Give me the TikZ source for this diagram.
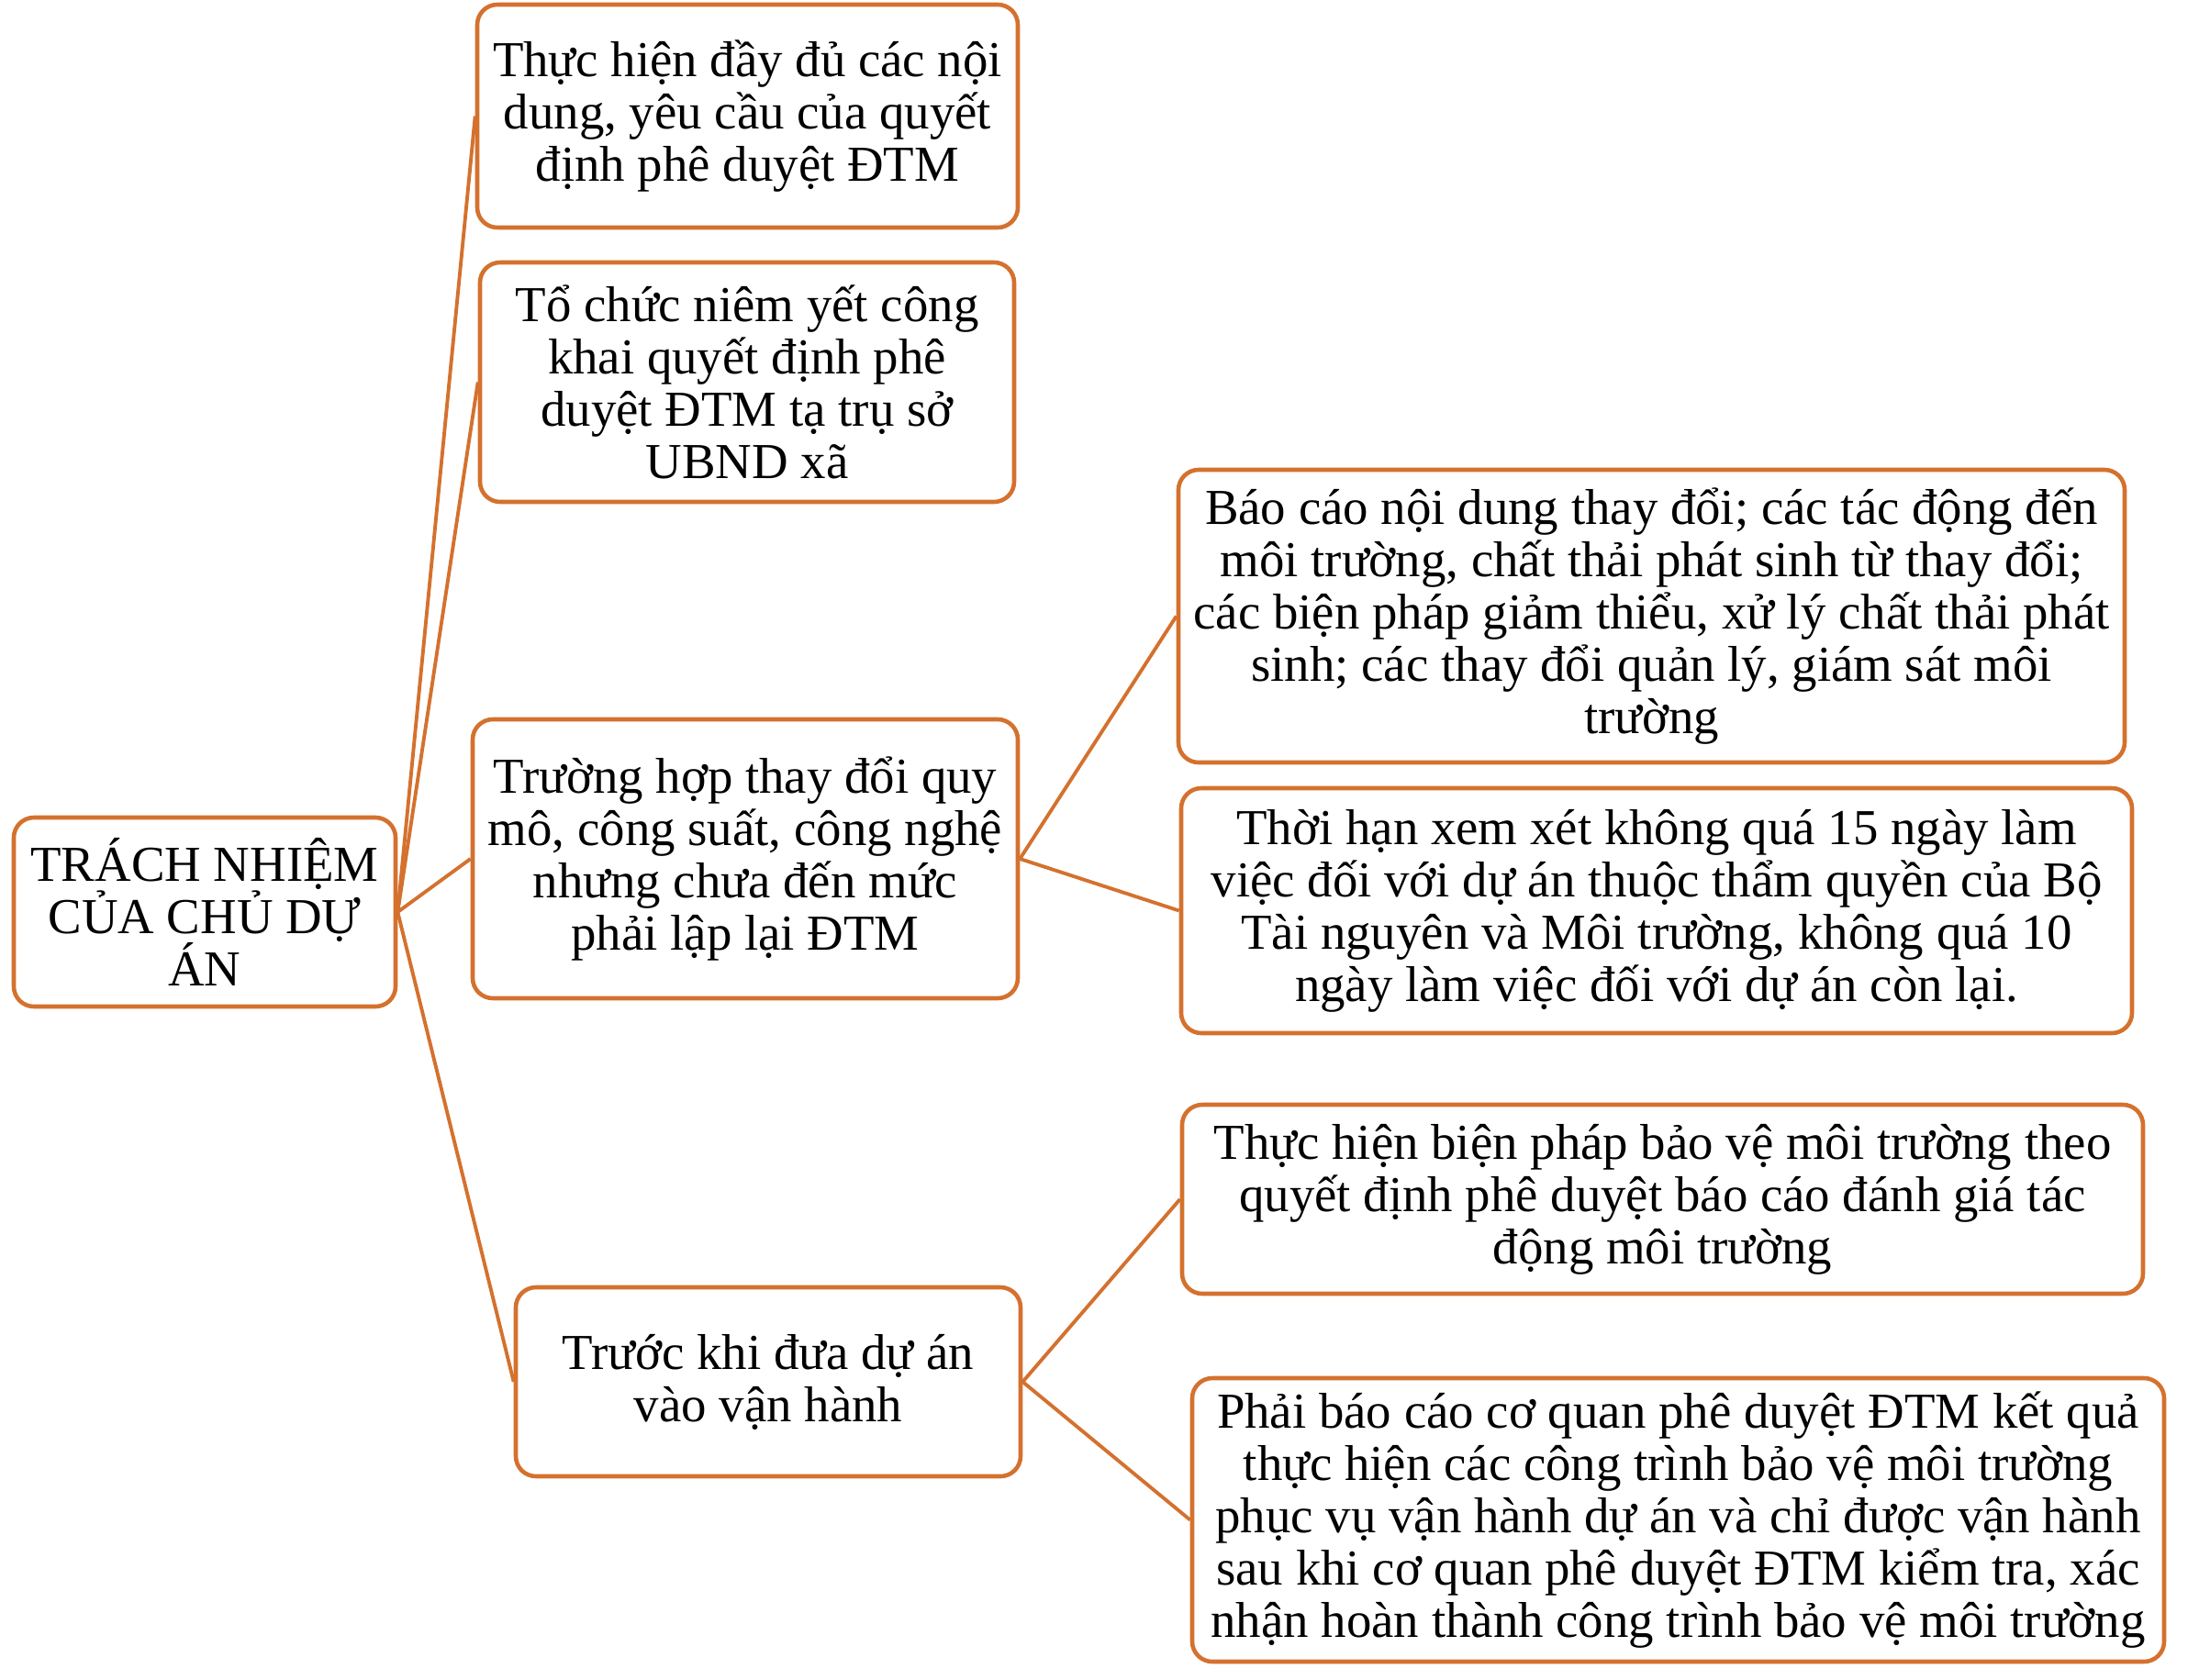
\documentclass[tikz,border=0pt]{standalone}
\usepackage{fontspec}
\setmainfont{Liberation Serif}
\definecolor{dutyorange}{RGB}{212,113,46}
\tikzset{
  tbox/.style = {draw=dutyorange, line width=1.3pt, rounded corners=0.22cm,
                 align=center, inner sep=0pt, fill=white,
                 font=\fontsize{15.6}{16.2}\selectfont},
  link/.style = {dutyorange, line width=1.1pt},
}

\begin{document}
\begin{tikzpicture}
\useasboundingbox (0,0) rectangle (23.96,-18.30);
% goc
\node[tbox, minimum width=4.16cm, minimum height=2.06cm] (duty) at (2.23,-9.94)
  {TRÁCH NHIỆM\\CỦA CHỦ DỰ\\ÁN};
% cot giua
\node[tbox, minimum width=5.89cm, minimum height=2.43cm] (full) at (8.145,-1.265)
  {Thực hiện đầy đủ các nội\\dung, yêu cầu của quyết\\định phê duyệt ĐTM};
\node[tbox, minimum width=5.82cm, minimum height=2.61cm] (post) at (8.14,-4.165)
  {Tổ chức niêm yết công\\khai quyết định phê\\duyệt ĐTM tạ trụ sở\\UBND xã};
\node[tbox, minimum width=5.94cm, minimum height=3.04cm] (change) at (8.12,-9.36)
  {Trường hợp thay đổi quy\\mô, công suất, công nghệ\\nhưng chưa đến mức\\phải lập lại ĐTM};
\node[tbox, minimum width=5.50cm, minimum height=2.06cm] (oper) at (8.37,-15.06)
  {Trước khi đưa dự án\\vào vận hành};
% cot phai
\node[tbox, minimum width=10.31cm, minimum height=3.19cm] (report) at (17.995,-6.715)
  {Báo cáo nội dung thay đổi; các tác động đến\\môi trường, chất thải phát sinh từ thay đổi;\\các biện pháp giảm thiểu, xử lý chất thải phát\\sinh; các thay đổi quản lý, giám sát môi\\trường};
\node[tbox, minimum width=10.36cm, minimum height=2.67cm] (limit) at (18.05,-9.925)
  {Thời hạn xem xét không quá 15 ngày làm\\việc đối với dự án thuộc thẩm quyền của Bộ\\Tài nguyên và Môi trường, không quá 10\\ngày làm việc đối với dự án còn lại.};
\node[tbox, minimum width=10.47cm, minimum height=2.06cm] (protect) at (18.115,-13.07)
  {Thực hiện biện pháp bảo vệ môi trường theo\\quyết định phê duyệt báo cáo đánh giá tác\\động môi trường};
\node[tbox, minimum width=10.59cm, minimum height=3.09cm] (check) at (18.285,-16.565)
  {Phải báo cáo cơ quan phê duyệt ĐTM kết quả\\thực hiện các công trình bảo vệ môi trường\\phục vụ vận hành dự án và chỉ được vận hành\\sau khi cơ quan phê duyệt ĐTM kiểm tra, xác\\nhận hoàn thành công trình bảo vệ môi trường};
% noi
\draw[link] (duty.east) -- (full.west);
\draw[link] (duty.east) -- (post.west);
\draw[link] (duty.east) -- (change.west);
\draw[link] (duty.east) -- (oper.west);
\draw[link] (change.east) -- (report.west);
\draw[link] (change.east) -- (limit.west);
\draw[link] (oper.east) -- (protect.west);
\draw[link] (oper.east) -- (check.west);
\end{tikzpicture}
\end{document}
